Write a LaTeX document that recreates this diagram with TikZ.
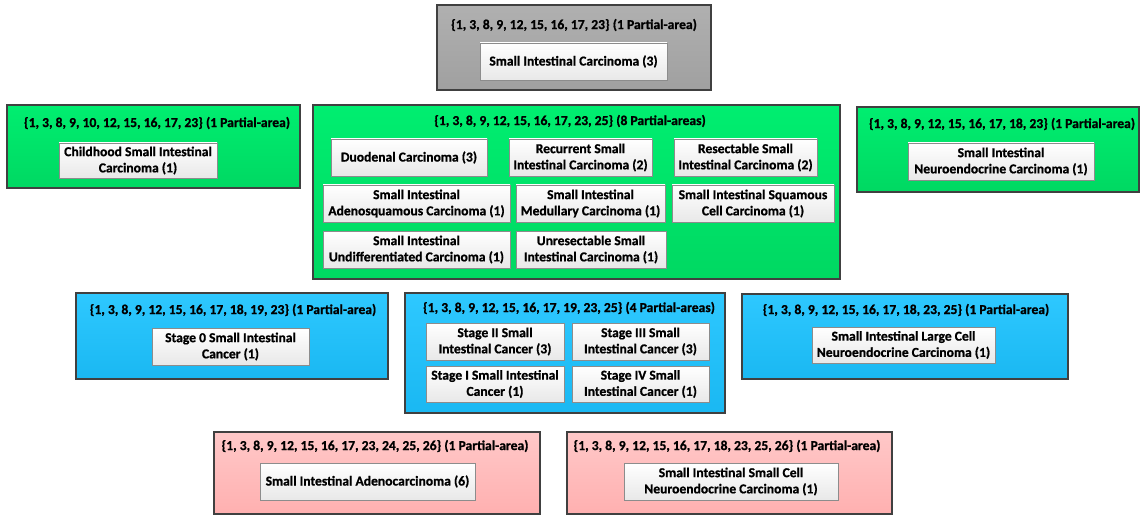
\documentclass[tikz,border=0pt]{standalone}
\usepackage{fontspec}
\setmainfont{Carlito}[BoldFeatures={FakeBold=0.9}]
\usetikzlibrary{fit}

\definecolor{edgeDark}{HTML}{404040}
\definecolor{edgeLight}{HTML}{8C8C8C}
\definecolor{grayTop}{HTML}{B0B0B0}
\definecolor{grayBot}{HTML}{A0A0A0}
\definecolor{greenTop}{HTML}{00EE70}
\definecolor{greenBot}{HTML}{00D862}
\definecolor{blueTop}{HTML}{2EC8FF}
\definecolor{blueBot}{HTML}{1AB8F2}
\definecolor{pinkTop}{HTML}{FFC8C8}
\definecolor{pinkBot}{HTML}{FFB0B0}

\newcommand\labelfont{\fontsize{13.6}{16.2}\selectfont\bfseries}

\tikzset{
  group/.style={draw=edgeDark, line width=2.2pt, inner sep=0pt},
  grayset/.style={group, top color=grayTop, bottom color=grayBot},
  greenset/.style={group, top color=greenTop, bottom color=greenBot},
  blueset/.style={group, top color=blueTop, bottom color=blueBot},
  pinkset/.style={group, top color=pinkTop, bottom color=pinkBot},
  header/.style={font=\labelfont, inner sep=0pt, text=black},
  concept/.style={draw=edgeLight, line width=0.9pt, top color=white,
    bottom color=black!9, align=center, font=\labelfont, inner sep=0pt},
}

% concept box given by its corners: name, x1, y1, x2, y2, label
\newcommand\conceptbox[6]{%
  \node[concept, minimum width={(#4-#2)*1pt}, minimum height={(#5-#3)*1pt}]
    (#1) at ({(#2+#4)/2},{(#3+#5)/2}) {#6};}

\begin{document}
\begin{tikzpicture}[x=1pt,y=-1pt]
\useasboundingbox (0,0) rectangle (1144,516);

% ---- level 0
\node[grayset, fit={(437,5)(711,90)}] (g0) {};
\node[header] (g0t) at (574,25) {\{1, 3, 8, 9, 12, 15, 16, 17, 23\} (1 Partial-area)};
\conceptbox{c0}{480}{43}{667}{80}{Small Intestinal Carcinoma (3)}

% ---- level 1 (green)
\node[greenset, fit={(7,105)(300,188)}] (g1) {};
\node[header] (g1t) at (157,123) {\{1, 3, 8, 9, 10, 12, 15, 16, 17, 23\} (1 Partial-area)};
\conceptbox{c1}{59}{143}{217}{178}{Childhood Small Intestinal\\Carcinoma (1)}

\node[greenset, fit={(313,105)(840,279)}] (g2) {};
\node[header] (g2t) at (570,121) {\{1, 3, 8, 9, 12, 15, 16, 17, 23, 25\} (8 Partial-areas)};
\conceptbox{c2a}{331}{139}{487}{176}{Duodenal Carcinoma (3)}
\conceptbox{c2b}{509}{139}{652}{176}{Recurrent Small\\Intestinal Carcinoma (2)}
\conceptbox{c2c}{674}{139}{817}{176}{Resectable Small\\Intestinal Carcinoma (2)}
\conceptbox{c2d}{323}{185}{510}{222}{Small Intestinal\\Adenosquamous Carcinoma (1)}
\conceptbox{c2e}{516}{185}{665}{222}{Small Intestinal\\Medullary Carcinoma (1)}
\conceptbox{c2f}{672}{185}{834}{222}{Small Intestinal Squamous\\Cell Carcinoma (1)}
\conceptbox{c2g}{323}{231}{510}{268}{Small Intestinal\\Undifferentiated Carcinoma (1)}
\conceptbox{c2h}{516}{231}{666}{268}{Unresectable Small\\Intestinal Carcinoma (1)}

\node[greenset, fit={(857,107)(1139,192)}] (g3) {};
\node[header] (g3t) at (1002,124) {\{1, 3, 8, 9, 12, 15, 16, 17, 18, 23\} (1 Partial-area)};
\conceptbox{c3}{908}{143}{1094}{180}{Small Intestinal\\Neuroendocrine Carcinoma (1)}

% ---- level 2 (blue)
\node[blueset, fit={(76,293)(388,379)}] (b1) {};
\node[header] (b1t) at (233,310) {\{1, 3, 8, 9, 12, 15, 16, 17, 18, 19, 23\} (1 Partial-area)};
\conceptbox{d1}{152}{328}{309}{365}{Stage 0 Small Intestinal\\Cancer (1)}

\node[blueset, fit={(405,293)(725,413)}] (b2) {};
\node[header] (b2t) at (569,308) {\{1, 3, 8, 9, 12, 15, 16, 17, 19, 23, 25\} (4 Partial-areas)};
\conceptbox{d2a}{426}{323}{564}{360}{Stage II Small\\Intestinal Cancer (3)}
\conceptbox{d2b}{572}{323}{709}{360}{Stage III Small\\Intestinal Cancer (3)}
\conceptbox{d2c}{426}{366}{564}{402}{Stage I Small Intestinal\\Cancer (1)}
\conceptbox{d2d}{572}{366}{709}{402}{Stage IV Small\\Intestinal Cancer (1)}

\node[blueset, fit={(742,294)(1068,379)}] (b3) {};
\node[header] (b3t) at (906,310) {\{1, 3, 8, 9, 12, 15, 16, 17, 18, 23, 25\} (1 Partial-area)};
\conceptbox{d3}{812}{327}{995}{363}{Small Intestinal Large Cell\\Neuroendocrine Carcinoma (1)}

% ---- level 3 (pink)
\node[pinkset, fit={(214,432)(540,514)}] (p1) {};
\node[header] (p1t) at (375,446) {\{1, 3, 8, 9, 12, 15, 16, 17, 23, 24, 25, 26\} (1 Partial-area)};
\conceptbox{e1}{260}{463}{475}{500}{Small Intestinal Adenocarcinoma (6)}

\node[pinkset, fit={(567,432)(892,514)}] (p2) {};
\node[header] (p2t) at (727,446) {\{1, 3, 8, 9, 12, 15, 16, 17, 18, 23, 25, 26\} (1 Partial-area)};
\conceptbox{e2}{624}{463}{838}{500}{Small Intestinal Small Cell\\Neuroendocrine Carcinoma (1)}
\end{tikzpicture}
\end{document}
